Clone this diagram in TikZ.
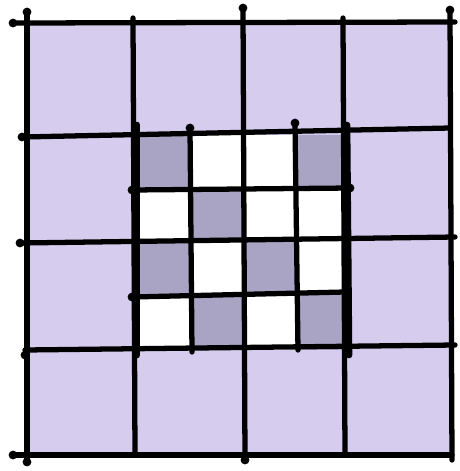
\documentclass[tikz,border=0pt]{standalone}
\usepackage{tikz}

\definecolor{lavender}{RGB}{214,204,238}
\definecolor{slate}{RGB}{170,164,196}

\begin{document}
\begin{tikzpicture}[
        x=0.02cm, y=-0.02cm,
        pen/.style   = {draw=black, line width=3pt, line cap=round},
        fatpen/.style = {draw=black, line width=3.8pt, line cap=round},
        inkdot/.style = {circle, fill=black, inner sep=0pt, minimum size=5pt}
    ]
        \useasboundingbox (0,0) rectangle (460,471);

        % crayon fills
        \fill[lavender] (27,23) rectangle (450,455);
        \fill[white] (137,135) rectangle (347,350);
        \foreach \xa/\ya/\xb/\yb in {137/135/190/190, 295/135/347/190,
                                     190/190/245/240, 137/240/190/295,
                                     245/240/295/295, 190/295/245/350,
                                     295/295/347/350}
            \fill[slate] (\xa,\ya) rectangle (\xb,\yb);

        % outer grid
        \draw[pen] (27,12) -- (27,462);
        \draw[pen] (133,18) -- (135,455);
        \draw[pen] (243,8) -- (245,460);
        \draw[pen] (343,18) -- (345,455);
        \draw[pen] (450,10) -- (452,460);
        \draw[pen] (13,23) -- (455,22);
        \draw[pen] (22,137) -- (450,128);
        \draw[pen] (20,243) -- (455,237);
        \draw[pen] (25,350) -- (455,345);
        \draw[pen] (13,455) -- (452,455);

        % inner grid
        \draw[fatpen] (137,125) -- (137,355);
        \draw[fatpen] (347,125) -- (349,355);
        \draw[pen] (190,128) -- (192,352);
        \draw[pen] (295,123) -- (298,350);
        \draw[pen] (132,190) -- (350,188);
        \draw[pen] (132,297) -- (345,292);

        % pen dots at line ends
        \foreach \x/\y in {27/12, 243/8, 450/10, 13/23, 22/137, 20/243,
                           25/355, 13/455, 27/462, 245/460, 132/190,
                           132/297, 295/123, 350/188, 190/128}
            \node[inkdot] (d\x\y) at (\x,\y) {};
\end{tikzpicture}
\end{document}
